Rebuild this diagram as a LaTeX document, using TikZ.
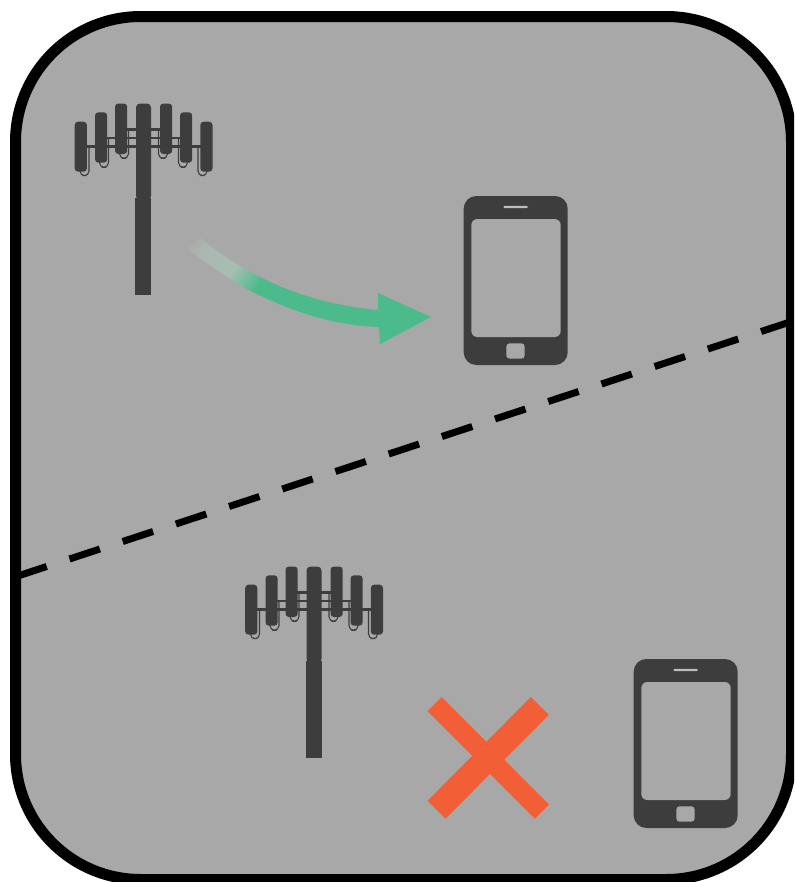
\documentclass[tikz,border=0pt]{standalone}
\usepackage{tikz}
\usetikzlibrary{
	calc
}
\definecolor{panelgray}{HTML}{A8A8A8}
\definecolor{devicegray}{HTML}{3D3D3D}
\definecolor{speakergray}{HTML}{BDBDBD}
\definecolor{linkgreen}{HTML}{4CBB8B}
\definecolor{linkpale}{HTML}{ACB5B0}
\definecolor{linkmid}{HTML}{A6BFB2}
\definecolor{crossred}{HTML}{F25F37}
\pgfdeclarehorizontalshading{linkfade}{100bp}{
	color(0bp)=(panelgray); color(16bp)=(panelgray); color(20bp)=(linkpale);
	color(30bp)=(linkmid); color(38bp)=(linkgreen); color(100bp)=(linkgreen)}

\begin{document}
\begin{tikzpicture}[
		x=0.75pt, y=-0.75pt,
		panel/.style={draw=black, fill=panelgray, line width=8.25pt, rounded corners=94pt},
		device/.style={fill=devicegray},
		feed/.style={draw=devicegray, line width=0.8pt, fill=none},
		boundary/.style={draw=black, line width=5.25pt, dash pattern=on 24pt off 18pt},
		crossbar/.style={draw=crossred},
		tower/.pic={
			% feeder loops behind the antennas
			\foreach \xa/\xb/\ya/\yb in {80/89/147/175.7, 99.5/108.5/138/167.3, 119.5/128.5/130/158.3}{
				\draw[feed, rounded corners=3.5pt] (\xb,\ya) -- (\xb,\yb) -- (\xa,\yb) -- (\xa,\ya);
				\draw[feed, rounded corners=3.5pt] (287-\xb,\ya) -- (287-\xb,\yb) -- (287-\xa,\yb) -- (287-\xa,\ya);
			}
			% cross arms
			\fill[device] (86,145) rectangle (201,147.5);
			\fill[device] (106,136.7) rectangle (181,139.3);
			\fill[device] (126,128.3) rectangle (161,131);
			% antennas
			\foreach \xa/\ya/\yb in {74.7/121.7/171.7, 95/112.3/162.7, 115/103.5/154}{
				\fill[device, rounded corners=2.5pt] (\xa,\ya) rectangle ++(12.2,\yb-\ya);
				\fill[device, rounded corners=2.5pt] (275-\xa,\ya) rectangle ++(12.2,\yb-\ya);
			}
			% mast
			\fill[device] (135,198) rectangle (151,295);
			\fill[device, rounded corners=3pt] (136,103.5) rectangle (151,200);
		},
		phone/.pic={
			\fill[device, rounded corners=9.5pt] (463.7,196) rectangle (567.7,365);
			\fill[panelgray, rounded corners=4.5pt] (471.3,219) rectangle (560.7,337);
			\fill[speakergray, rounded corners=1pt] (503.3,205.8) rectangle (528,208.2);
			\fill[panelgray, rounded corners=2.5pt] (506.3,343.3) rectangle (524.7,358.7);
		}
	]
	
	% =========================
	% Panel
	% =========================
	\useasboundingbox (0,0) rectangle (794,882);
	\begin{scope}
		\clip (0,0) rectangle (794,882);
		\draw[panel] (15.5,16.5) rectangle (791.5,879.5);
	\end{scope}
	
	% =========================
	% Top case: link reaches the phone
	% =========================
	\pic (towerA) at (0,0) {tower};
	\pic (phoneA) at (0,0) {phone};
	
	\path[shading=linkfade, shading angle=-35]
	(200,238) .. controls (218,252) and (238,266) .. (260,277)
	.. controls (295,295) and (335,306) .. (378,310)
	-- (378,293) -- (431,317) -- (380,344) -- (379,327)
	.. controls (345,326) and (300,317) .. (245,288)
	.. controls (225,276) and (205,263) .. (187,248) -- cycle;
	
	% =========================
	% Boundary between the two cases
	% =========================
	\coordinate (edgeL) at (16.3,576.5);
	\coordinate (edgeR) at (790,322);
	\draw[boundary] (edgeL) -- (edgeR);
	
	% =========================
	% Bottom case: link is blocked
	% =========================
	\pic (towerB) at (170.5,463) {tower};
	\pic (phoneB) at (170,463) {phone};
	
	\coordinate (crossTL) at (434.5,704);
	\coordinate (crossBR) at (542,811.7);
	\coordinate (crossTR) at (539.8,706);
	\coordinate (crossBL) at (436.5,809.7);
	\draw[crossbar, line width=15pt] (crossTL) -- (crossBR);
	\draw[crossbar, line width=19pt] (crossTR) -- (crossBL);
	
\end{tikzpicture}
\end{document}
